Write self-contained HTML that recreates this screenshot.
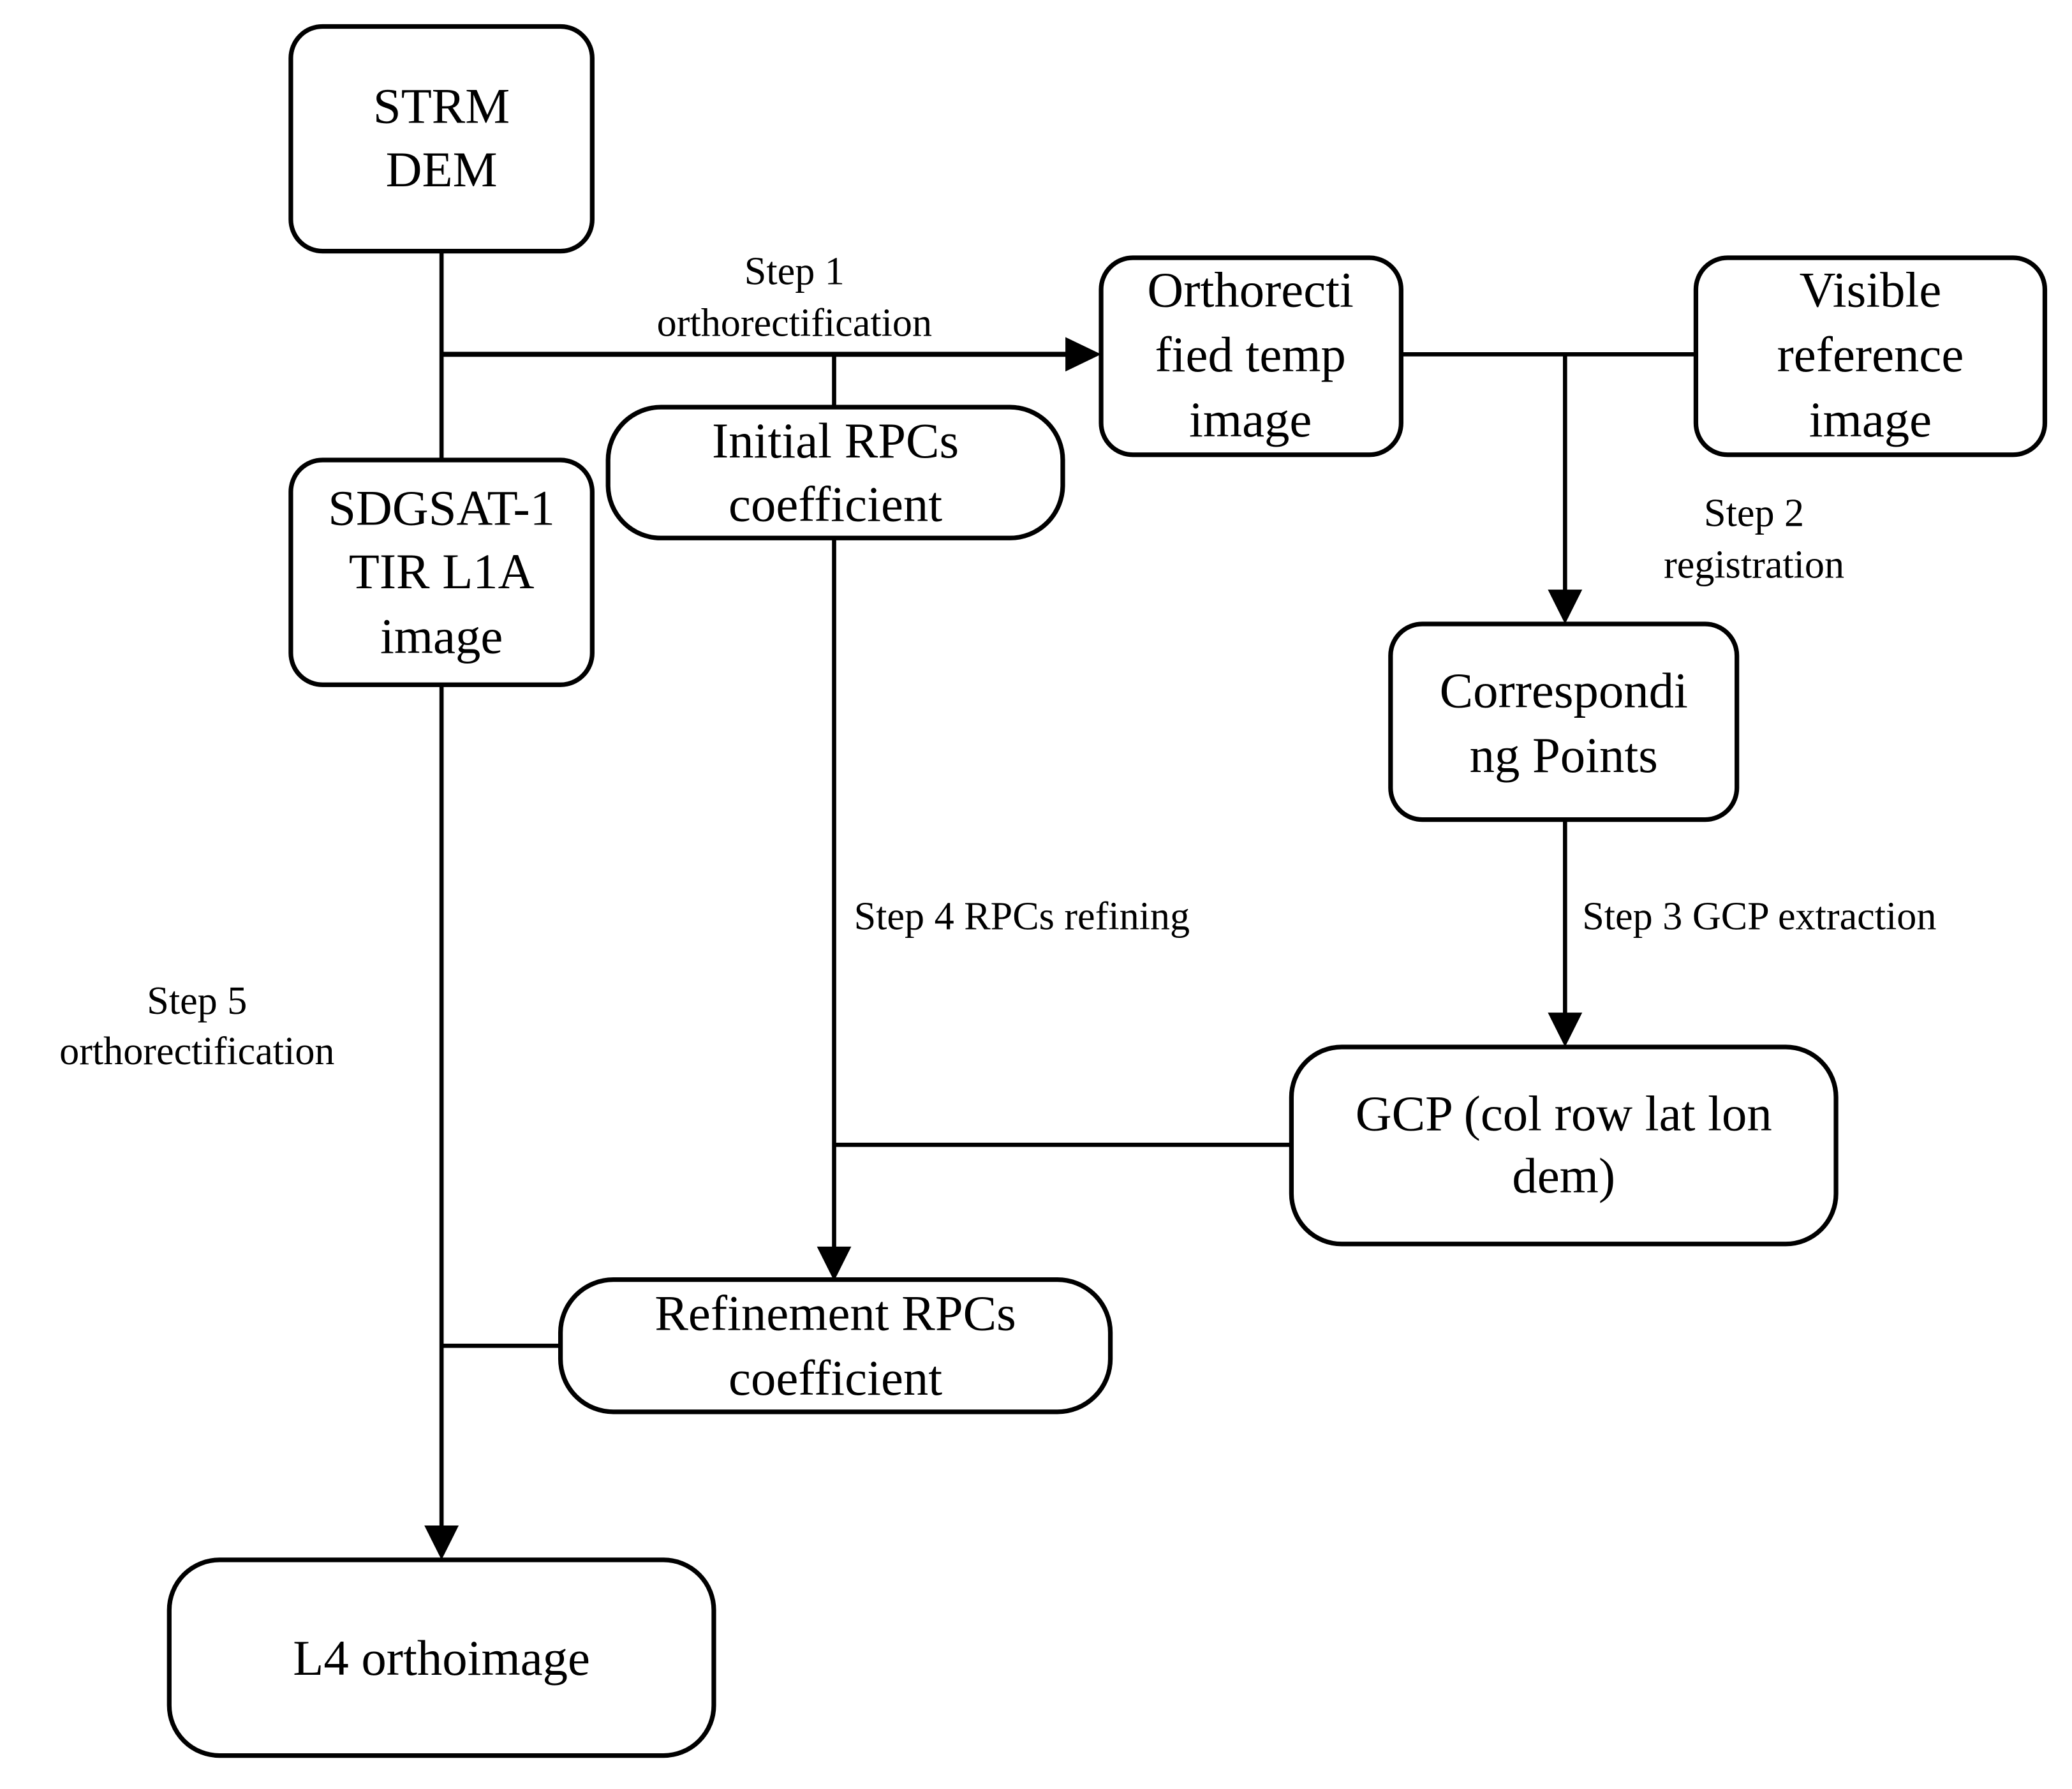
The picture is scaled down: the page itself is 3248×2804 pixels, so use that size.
<!DOCTYPE html>
<html><head><meta charset="utf-8"><style>html,body{margin:0;padding:0;background:#fff}svg{display:block}</style></head>
<body>
<svg width="3248" height="2804" viewBox="0 0 1567.5 1353.3" xmlns="http://www.w3.org/2000/svg" font-family="'Liberation Serif', serif" fill="none" stroke="#000">
<g stroke-width="3.2">
<line x1="334" y1="190" x2="334" y2="348"/>
<line x1="334" y1="268" x2="808" y2="268" stroke-width="3.8"/>
<line x1="631" y1="268" x2="631" y2="308"/>
<line x1="1060" y1="268" x2="1283" y2="268"/>
<line x1="1184" y1="268" x2="1184" y2="448"/>
<line x1="1184" y1="620" x2="1184" y2="768"/>
<line x1="631" y1="407" x2="631" y2="945"/>
<line x1="631" y1="866" x2="977" y2="866"/>
<line x1="334" y1="518" x2="334" y2="1156"/>
<line x1="334" y1="1018" x2="424" y2="1018"/>
</g>
<g fill="#000" stroke="none">
<polygon points="806,255 833,268 806,281"/>
<polygon points="1171,446 1184,472 1197,446"/>
<polygon points="1171,766 1184,792 1197,766"/>
<polygon points="618,943 631,969 644,943"/>
<polygon points="321,1154 334,1180 347,1154"/>
</g>
<g stroke-width="3.5" fill="#fff">
<rect x="220" y="20" width="228" height="170" rx="24"/>
<rect x="833" y="195" width="227" height="149" rx="24"/>
<rect x="1283" y="195" width="264" height="149" rx="24"/>
<rect x="460" y="308" width="344" height="99" rx="40"/>
<rect x="220" y="348" width="228" height="170" rx="24"/>
<rect x="1052" y="472" width="262" height="148" rx="24"/>
<rect x="977" y="792" width="412" height="149" rx="38"/>
<rect x="424" y="968" width="416" height="100" rx="40"/>
<rect x="128" y="1180" width="412" height="148" rx="38"/>
</g>
<g fill="#000" stroke="none" font-size="38" text-anchor="middle">
<text x="334" y="93">STRM</text><text x="334" y="141">DEM</text>
<text x="946" y="232">Orthorecti</text><text x="946" y="281">fied temp</text><text x="946" y="330">image</text>
<text x="1415" y="232">Visible</text><text x="1415" y="281">reference</text><text x="1415" y="330">image</text>
<text x="632" y="346">Initial RPCs</text><text x="632" y="394">coefficient</text>
<text x="334" y="397">SDGSAT-1</text><text x="334" y="445">TIR  L1A</text><text x="334" y="494">image</text>
<text x="1183" y="535">Correspondi</text><text x="1183" y="584">ng Points</text>
<text x="1183" y="855">GCP (col row lat lon</text><text x="1183" y="902">dem)</text>
<text x="632" y="1006">Refinement RPCs</text><text x="632" y="1055">coefficient</text>
<text x="334" y="1267">L4 orthoimage</text>
</g>
<g fill="#000" stroke="none" font-size="30">
<text x="601" y="215" text-anchor="middle">Step 1</text><text x="601" y="254" text-anchor="middle">orthorectification</text>
<text x="1327" y="398" text-anchor="middle">Step 2</text><text x="1327" y="437" text-anchor="middle">registration</text>
<text x="1197" y="703">Step 3 GCP extraction</text>
<text x="646" y="703">Step 4 RPCs refining</text>
<text x="149" y="767" text-anchor="middle">Step 5</text><text x="149" y="805" text-anchor="middle">orthorectification</text>
</g>
</svg>
</body></html>
